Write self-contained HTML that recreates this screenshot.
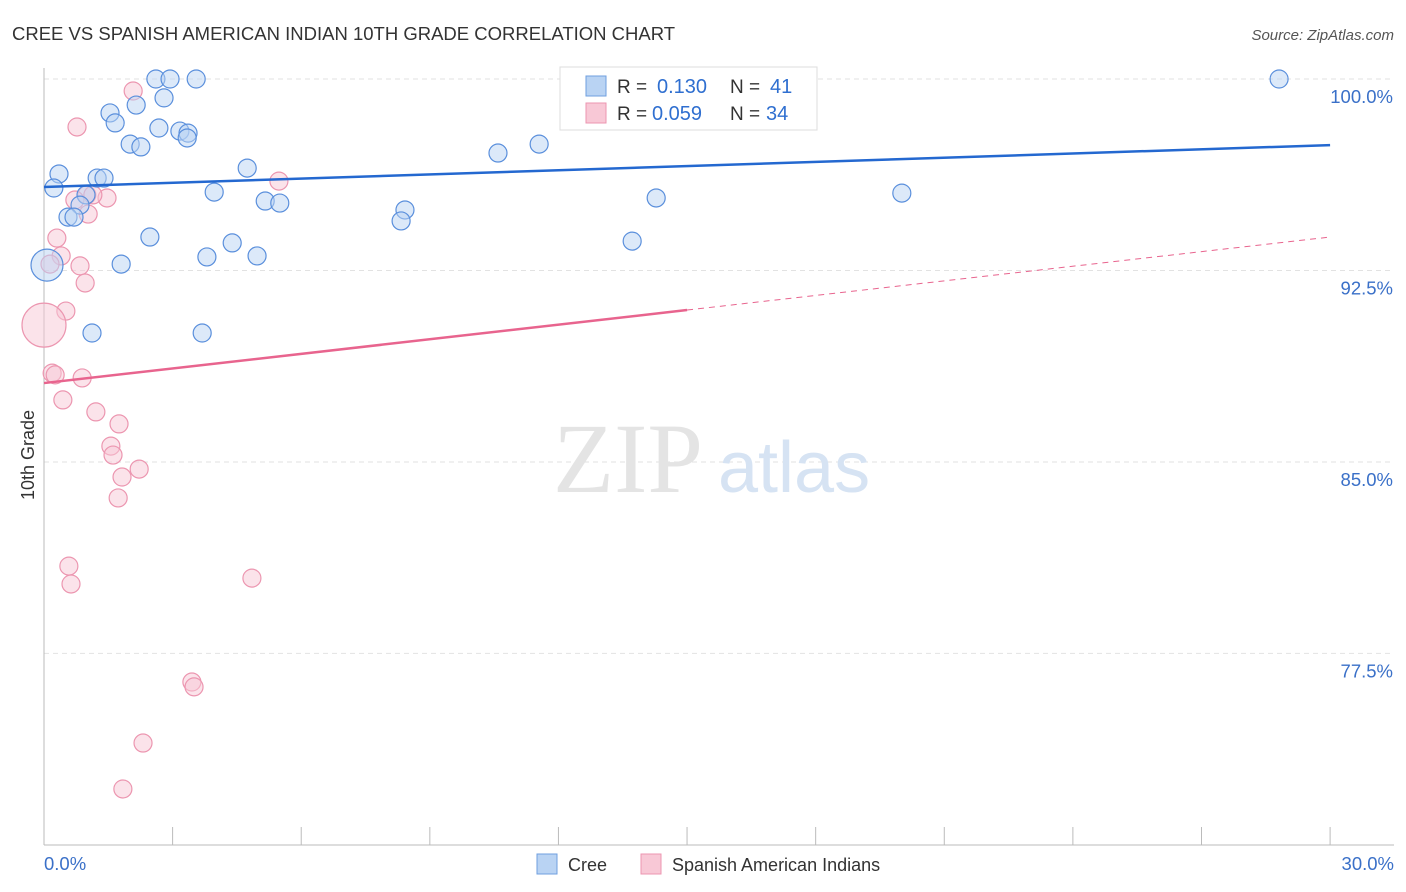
<!DOCTYPE html>
<html><head><meta charset="utf-8"><style>
body{margin:0;background:#fff;font-family:"Liberation Sans",sans-serif}
svg{display:block}
</style></head><body>
<svg width="1406" height="892">
<text x="12" y="40" font-size="18.5" fill="#333">CREE VS SPANISH AMERICAN INDIAN 10TH GRADE CORRELATION CHART</text>
<text x="1394" y="40" font-size="15" fill="#555" font-style="italic" text-anchor="end">Source: ZipAtlas.com</text>
<g id="grid"></g>
<text x="553" y="492" font-size="100" fill="#e4e4e4" font-family="Liberation Serif,serif">ZIP</text>
<text x="718" y="492" font-size="72" fill="#d6e3f3">atlas</text>
<g id="marks"></g>
<text x="34" y="455" font-size="18" fill="#333" transform="rotate(-90 34 455)" text-anchor="middle">10th Grade</text>
<g>
<rect x="560" y="67" width="257" height="63" fill="#fff" stroke="#ddd"/>
<rect x="586" y="76" width="20" height="20" fill="#b9d3f3" stroke="#6f9fdf"/>
<text x="617" y="93" font-size="19" fill="#333">R =</text>
<text x="657" y="93" font-size="20" fill="#2f6fd0">0.130</text>
<text x="730" y="93" font-size="19" fill="#333">N =</text>
<text x="770" y="93" font-size="20" fill="#2f6fd0">41</text>
<rect x="586" y="103" width="20" height="20" fill="#f8c8d6" stroke="#ec96b0"/>
<text x="617" y="120" font-size="19" fill="#333">R =</text>
<text x="652" y="120" font-size="20" fill="#2f6fd0">0.059</text>
<text x="730" y="120" font-size="19" fill="#333">N =</text>
<text x="766" y="120" font-size="20" fill="#2f6fd0">34</text>
</g>
<g>
<rect x="537" y="854" width="20" height="20" fill="#b9d3f3" stroke="#6f9fdf"/>
<text x="568" y="871" font-size="18" fill="#333">Cree</text>
<rect x="641" y="854" width="20" height="20" fill="#f8c8d6" stroke="#ec96b0"/>
<text x="672" y="871" font-size="18" fill="#333">Spanish American Indians</text>
</g>
</svg>
<script>
const blueX=[2.61,2.94,3.55,28.81,2.80,2.15,1.54,1.66,2.68,3.17,3.36,3.34,2.01,2.26,11.55,10.59,4.74,0.35,1.24,1.40,0.23,3.97,20.01,0.98,14.28,5.16,5.50,0.84,8.42,0.56,0.70,8.33,2.47,4.39,13.72,3.80,4.97,1.80,0.07,1.12,3.69];
const blueY=[100,100,100,100,99.26,98.98,98.67,98.28,98.08,97.96,97.88,97.69,97.45,97.34,97.45,97.10,96.51,96.28,96.12,96.12,95.73,95.57,95.53,95.46,95.34,95.22,95.14,95.06,94.87,94.59,94.59,94.44,93.81,93.58,93.65,93.03,93.07,92.75,92.71,90.05,90.05];
const pinkX=[12.50,2.08,0.77,5.48,1.00,1.47,0.72,1.14,1.03,0.30,0.40,0.84,0.14,0.96,0.51,0.0,0.19,0.26,0.89,0.44,1.21,1.75,1.56,1.61,2.22,1.82,1.73,0.58,0.63,4.85,3.45,3.50,2.31,1.84];
const pinkY=[100,99.53,98.12,96.00,95.46,95.34,95.26,95.46,94.71,93.77,93.07,92.68,92.75,92.01,90.91,90.36,88.48,88.41,88.29,87.43,86.96,86.49,85.62,85.27,84.72,84.41,83.59,80.92,80.22,80.45,76.38,76.19,73.99,72.19];
const yTicks=[100,92.5,85,77.5];
const yTickLabels=["100.0%","92.5%","85.0%","77.5%"];
const blueTrend=[95.77,97.41];
const pinkTrend=[88.09,93.81];
const NS="http://www.w3.org/2000/svg";
const X=v=>44+v*42.87, Y=v=>79+(100-v)*25.53;
function mk(t,a,p){const e=document.createElementNS(NS,t);for(const k in a)e.setAttribute(k,a[k]);p.appendChild(e);return e;}
const g=document.getElementById('grid'), m=document.getElementById('marks');
yTicks.forEach((v,i)=>{
 const l=mk('line',{x1:44,x2:1394,y1:Y(v),y2:Y(v),stroke:'#e2e2e2','stroke-dasharray':'5,4'},g);
 
 
 const t=mk('text',{x:1393,y:Y(v)+24,'font-size':18.5,fill:'#3a70c8','text-anchor':'end'},g);
 t.textContent=yTickLabels[i];
 
 
});
const ax=mk('line',{x1:44,x2:44,y1:68,y2:845,stroke:'#bbb'},g);


const bx=mk('line',{x1:44,x2:1394,y1:845,y2:845,stroke:'#bbb'},g);


for(let i=0;i<=10;i++){const t=mk('line',{x1:X(i*3),x2:X(i*3),y1:827,y2:845,stroke:'#bbb'},g);
 
 }
[["0.0%",44,'start'],["30.0%",1394,'end']].forEach(a=>{const t=mk('text',{x:a[1],y:870,'font-size':18.5,fill:'#3a70c8','text-anchor':a[2]},g);t.textContent=a[0];
 
 });
function pts(xs,ys,fill,stroke,name){xs.forEach((x,i)=>{const big=(name==='cree-point'&&i===38)?16:((name==='spanish-point'&&i===15)?22:9);
 const c=mk('circle',{cx:X(x),cy:Y(ys[i]),r:big,fill:fill,'fill-opacity':0.5,stroke:stroke,'stroke-width':1.2},m);
 
 });}
pts(pinkX,pinkY,'#f8c8d6','#ec96b0','spanish-point');
pts(blueX,blueY,'#b9d3f3','#5a8fdc','cree-point');
const bl=mk('line',{x1:X(0),y1:Y(blueTrend[0]),x2:X(30),y2:Y(blueTrend[1]),stroke:'#2468d0','stroke-width':2.5},m);


const pm=pinkTrend[0]+(pinkTrend[1]-pinkTrend[0])*0.5;
const pl=mk('line',{x1:X(0),y1:Y(pinkTrend[0]),x2:X(15),y2:Y(pm),stroke:'#e8648e','stroke-width':2.5},m);


const pd=mk('line',{x1:X(15),y1:Y(pm),x2:X(30),y2:Y(pinkTrend[1]),stroke:'#e8648e','stroke-width':1,'stroke-dasharray':'6,5'},m);


</script>
</body></html>
